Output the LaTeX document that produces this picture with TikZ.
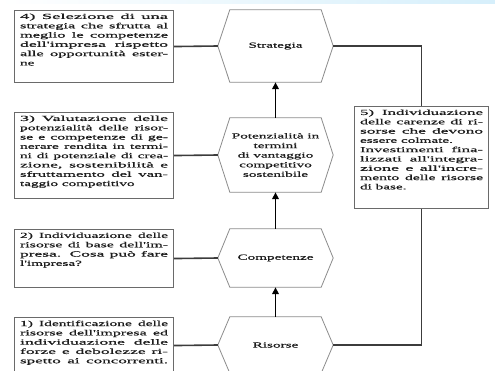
\documentclass[tikz,border=0pt]{standalone}
\usepackage{fontspec}
\usepackage{graphicx}
\setmainfont{Liberation Serif}[FakeStretch=1.95, FakeBold=0.6]
\newfontfamily\blockfont{Liberation Serif}[FakeStretch=1.95, FakeBold=0.9]
\usetikzlibrary{arrows.meta}

\definecolor{boxgray}{HTML}{6A6A6A}
\definecolor{hexgray}{HTML}{8C8C8C}
\definecolor{linkgray}{HTML}{3C3C3C}
\definecolor{inkcol}{HTML}{1C1C1C}
\definecolor{skyband}{HTML}{D6EFFB}

% one fully justified line of a text block: letters are widened a little
% (within limits) and the word spaces take up what is left
\newsavebox\jlbox
\newlength\jlnat
\newcommand\jl[1]{\sbox\jlbox{#1}\setlength\jlnat{\wd\jlbox}%
  \edef\jlf{\fpeval{max(0.94,min(1.22,0.97*\linewidth/\jlnat))}}%
  \noindent\scalebox{\jlf}[1]{\makebox[\fpeval{\linewidth/\jlf}pt][s]{#1}}\par}
% top-aligned text block of given width and height
\newcommand\blocktext[3]{\parbox[t][#2][t]{#1}{\blockfont\fontsize{7.8}{9.3}\selectfont #3}}
% hexagon around a named rectangular node, with its two side vertices
\newcommand\drawhex[1]{%
  \coordinate (#1-l) at ([xshift=-12pt]#1.west);
  \coordinate (#1-r) at ([xshift=12pt]#1.east);
  \draw[hexline] (#1.north west) -- (#1.north east) -- (#1-r) --
    (#1.south east) -- (#1.south west) -- (#1-l) -- cycle;}

\tikzset{
  txtbox/.style={draw=boxgray, line width=1.1pt, fill=white, anchor=north west,
    inner xsep=5.5pt, inner ysep=3pt, text=inkcol},
  hexin/.style={minimum width=91pt, inner sep=0pt, align=center, text=inkcol,
    font=\fontsize{7.8}{9.6}\selectfont},
  hexline/.style={draw=hexgray, line width=0.8pt},
  conn/.style={draw=linkgray, line width=1.6pt},
  upar/.style={draw=black, line width=1.8pt, -{Triangle[length=7pt,width=6.5pt]}},
}

\begin{document}
\begin{tikzpicture}[x=1pt,y=-1pt]
\useasboundingbox (0,0) rectangle (495,371);
\clip (0,0) rectangle (495,371);
\fill[white] (0,0) rectangle (495,371);
\shade[left color=white, right color=skyband] (0,0) rectangle (495,4);

% central chain of hexagons
\node[hexin, minimum height=72pt] (strat) at (275.5,46) {Strategia};
\node[hexin, minimum height=74pt] (pot) at (275.5,155)
  {Potenzialità in\\termini\\di vantaggio\\competitivo\\sostenibile};
\node[hexin, minimum height=58pt] (comp) at (275.5,258) {Competenze};
\node[hexin, minimum height=56pt] (ris) at (275.5,345) {Risorse};
\drawhex{strat}
\drawhex{pot}
\drawhex{comp}
\drawhex{ris}

% text blocks on the left
\node[txtbox] (b4) at (14,10) {\blocktext{148pt}{66pt}{%
  \jl{4) Selezione di una}
  \jl{strategia che sfrutta al}
  \jl{meglio le competenze}
  \jl{dell'impresa rispetto}
  \jl{alle opportunità ester-}
  ne}};
\node[txtbox] (b3) at (14,112) {\blocktext{148pt}{80pt}{%
  \jl{3) Valutazione delle}
  \jl{potenzialità delle risor-}
  \jl{se e competenze di ge-}
  \jl{nerare rendita in termi-}
  \jl{ni di potenziale di crea-}
  \jl{zione, sostenibilità e}
  \jl{sfruttamento del van-}
  taggio competitivo}};
\node[txtbox] (b2) at (14,229) {\blocktext{148pt}{52pt}{%
  \jl{2) Individuazione delle}
  \jl{risorse di base dell'im-}
  \jl{presa. Cosa può fare}
  l'impresa?}};
\node[txtbox] (b1) at (14,317) {\blocktext{148pt}{50pt}{%
  \jl{1) Identificazione delle}
  \jl{risorse dell'impresa ed}
  \jl{individuazione delle}
  \jl{forze e debolezze ri-}
  \jl{spetto ai concorrenti.}}};

% text block on the right
\node[txtbox] (b5) at (354,106) {\blocktext{123pt}{96pt}{%
  \jl{5) Individuazione}
  \jl{delle carenze di ri-}
  \jl{sorse che devono}
  essere colmate.\par
  \jl{Investimenti fina-}
  \jl{lizzati all'integra-}
  \jl{zione e all'incre-}
  \jl{mento delle risorse}
  di base.}};

% connectors
\draw[conn] (b4.east) -- (strat-l);
\draw[conn] (b3.east) -- (pot-l);
\draw[conn] (b2.east) -- (comp-l);
\draw[conn] (b1.east) -- (ris-l);
\draw[conn] (strat-r) -| (b5.north);
\draw[conn] (ris-r) -| (b5.south);

% upward arrows
\draw[upar] (ris.north) -- (comp.south);
\draw[upar] (comp.north) -- (pot.south);
\draw[upar] (pot.north) -- (strat.south);
\end{tikzpicture}
\end{document}
